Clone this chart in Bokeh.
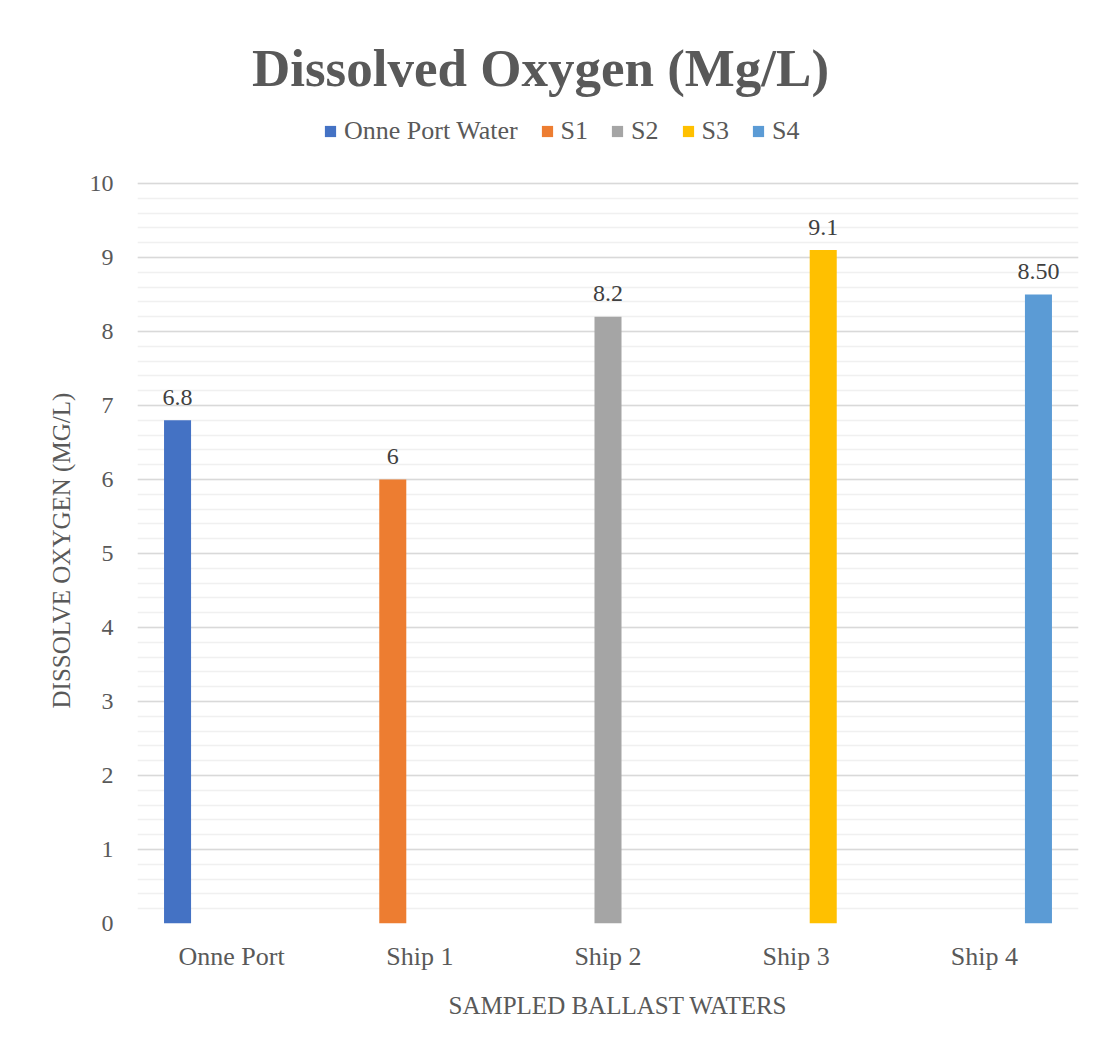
from bokeh.plotting import figure
from bokeh.models import (ColumnDataSource, FactorRange, Range1d, Title, Legend,
                          LegendItem, FixedTicker, Label)
from bokeh.transform import dodge
from bokeh.core.properties import value
from bokeh.embed import file_html
from bokeh.resources import INLINE

categories = ["Onne Port", "Ship 1", "Ship 2", "Ship 3", "Ship 4"]
series = ["Onne Port Water", "S1", "S2", "S3", "S4"]
values = [6.8, 6.0, 8.2, 9.1, 8.5]
value_labels = ["6.8", "6", "8.2", "9.1", "8.50"]
colors = ["#4472C4", "#ED7D31", "#A5A5A5", "#FFC000", "#5B9BD5"]
y_ticks = [0, 1, 2, 3, 4, 5, 6, 7, 8, 9, 10]
title_text = "Dissolved Oxygen (Mg/L)"
x_title = "SAMPLED BALLAST  WATERS"
y_title = "DISSOLVE OXYGEN (MG/L)"

FONT = "Liberation Serif"
GRAY = "#595959"

PX_PER_UNIT = 74.0          # vertical scale of the value axis
FRAME_H = 923               # frame spans canvas top down to the zero line
y_top = FRAME_H / PX_PER_UNIT

p = figure(x_range=FactorRange(*categories), y_range=Range1d(0, y_top),
           width=1099, height=1049, output_backend="svg", toolbar_location=None,
           min_border_left=137, min_border_right=21, min_border_top=0,
           min_border_bottom=126)
p.outline_line_color = None
p.background_fill_color = "white"
p.border_fill_color = "white"

bw = 0.1436
items = []
for i in range(len(series)):
    src = ColumnDataSource(dict(cat=[categories[i]], val=[values[i]], lab=[value_labels[i]]))
    xd = dodge("cat", (i - 2) * bw, range=p.x_range)
    r = p.vbar(x=xd, top="val", width=bw, color=colors[i], line_color=None, source=src)
    p.text(x=xd, y="val", text="lab", y_offset=-23, text_align="center",
           text_baseline="alphabetic", text_font=value(FONT), text_font_size="24px",
           text_color="#404040", source=src)
    items.append(LegendItem(label=series[i], renderers=[r]))

legend = Legend(items=items, orientation="horizontal", location=(186, FRAME_H - 146),
                padding=0, margin=0, spacing=22, label_standoff=7,
                glyph_width=14, glyph_height=14, border_line_color=None,
                background_fill_alpha=0, label_text_font=FONT,
                label_text_font_size="26px", label_text_color=GRAY)
p.add_layout(legend, "center")

p.add_layout(Label(x=(540 - 137) / 188.2, y=(FRAME_H - 67) / PX_PER_UNIT,
                   text=title_text, text_align="center", text_baseline="alphabetic",
                   text_font=FONT, text_font_size="53px", text_font_style="bold",
                   text_color=GRAY))

p.xgrid.grid_line_color = None
p.yaxis.ticker = FixedTicker(ticks=y_ticks, minor_ticks=[k / 5 for k in range(51)])
p.ygrid.grid_line_color = "#d9d9d9"
p.ygrid.grid_line_width = 1.5
p.ygrid.minor_grid_line_color = "#f0f0f0"
p.ygrid.minor_grid_line_width = 1.5

for ax in (p.xaxis, p.yaxis):
    ax.axis_line_color = None
    ax.major_tick_line_color = None
    ax.minor_tick_line_color = None
    ax.major_tick_in = 0
    ax.major_tick_out = 0
    ax.minor_tick_in = 0
    ax.minor_tick_out = 0
    ax.major_label_text_font = FONT
    ax.major_label_text_color = GRAY

p.xaxis.major_label_text_font_size = "26px"
p.xaxis.major_label_standoff = 18

p.yaxis.major_label_text_font_size = "24px"
p.yaxis.major_label_standoff = 24

ytitle = Title(text=y_title, align="left", offset=FRAME_H - 708, standoff=24,
               text_font=FONT, text_font_size="25px", text_font_style="normal",
               text_color=GRAY)
p.add_layout(ytitle, "left")

xtitle = Title(text=x_title, align="left", offset=448 - 137, standoff=32,
               text_font=FONT, text_font_size="25px", text_font_style="normal",
               text_color=GRAY)
p.add_layout(xtitle, "below")

open("out.html", "w").write(file_html(p, INLINE))
